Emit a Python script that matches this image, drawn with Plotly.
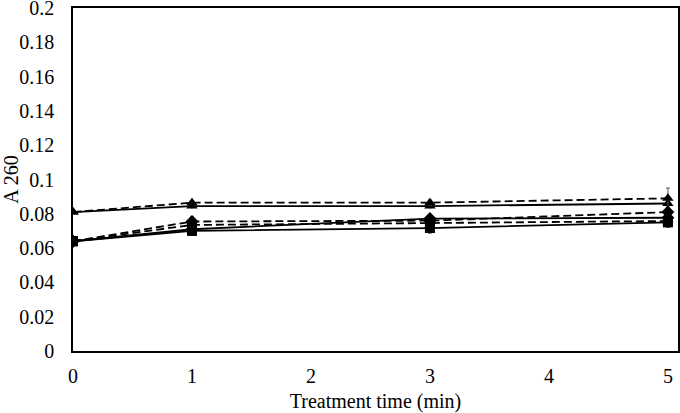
import plotly.graph_objects as go

time_min = [0, 1, 3, 5]

tri_solid = [0.081, 0.0845, 0.0845, 0.086]
tri_dashed = [0.081, 0.0865, 0.0865, 0.089]
dia_solid = [0.064, 0.071, 0.0772, 0.0777]
dia_dashed = [0.064, 0.0755, 0.0760, 0.081]
sq_solid = [0.064, 0.0700, 0.0717, 0.075]
sq_dashed = [0.064, 0.0735, 0.0746, 0.0758]

tri_solid_err = [0.0005, 0.001, 0.001, 0.002]
tri_dashed_err = [0.0005, 0.001, 0.0015, 0.006]
dia_solid_err = [0.0005, 0.002, 0.002, 0.002]
dia_dashed_err = [0.0005, 0.003, 0.002, 0.002]
sq_solid_err = [0.0005, 0.002, 0.003, 0.003]
sq_dashed_err = [0.0005, 0.002, 0.002, 0.002]

y_ticks = [0, 0.02, 0.04, 0.06, 0.08, 0.1, 0.12, 0.14, 0.16, 0.18, 0.2]
y_tick_labels = ["0", "0.02", "0.04", "0.06", "0.08", "0.1", "0.12", "0.14", "0.16", "0.18", "0.2"]
x_ticks = [0, 1, 2, 3, 4, 5]

series = [
    (tri_solid, tri_solid_err, "triangle-up", "solid"),
    (tri_dashed, tri_dashed_err, "triangle-up", "8px,4px"),
    (sq_solid, sq_solid_err, "square", "solid"),
    (sq_dashed, sq_dashed_err, "square", "8px,4px"),
    (dia_solid, dia_solid_err, "diamond", "solid"),
    (dia_dashed, dia_dashed_err, "diamond", "8px,4px"),
]

fig = go.Figure()
for vals, errs, sym, dash in series:
    fig.add_trace(go.Scatter(
        x=time_min, y=vals, mode="lines+markers",
        line=dict(color="black", width=1.8, dash=dash),
        marker=dict(symbol=sym, size=10, color="black"),
        error_y=dict(type="data", array=errs, color="#555", thickness=1, width=2),
        showlegend=False,
    ))

font = dict(family="Liberation Serif", size=20, color="black")
fig.update_layout(
    width=680, height=413,
    margin=dict(l=73, r=2, t=8, b=62, autoexpand=False),
    paper_bgcolor="white", plot_bgcolor="white",
    font=font,
)
fig.update_xaxes(
    range=[0, 5.085], tickvals=x_ticks, ticks="", showgrid=False, zeroline=False,
    showline=True, linecolor="black", linewidth=1.5, mirror=True,
    title=dict(text="Treatment time (min)", font=font, standoff=10),
    tickfont=font, ticklabelstandoff=6, ticklabeloverflow="allow", automargin=False,
)
fig.update_yaxes(
    range=[0, 0.2], tickvals=y_ticks, ticktext=y_tick_labels, ticks="", showgrid=False,
    zeroline=False, showline=True, linecolor="black", linewidth=1.5, mirror=True,
    title=dict(text="A 260", font=font, standoff=2),
    tickfont=font, ticklabelstandoff=13, ticklabeloverflow="allow", automargin=False,
)
fig.write_html("out.html", config={"displayModeBar": False},
               post_script="document.body.style.margin='0';")
